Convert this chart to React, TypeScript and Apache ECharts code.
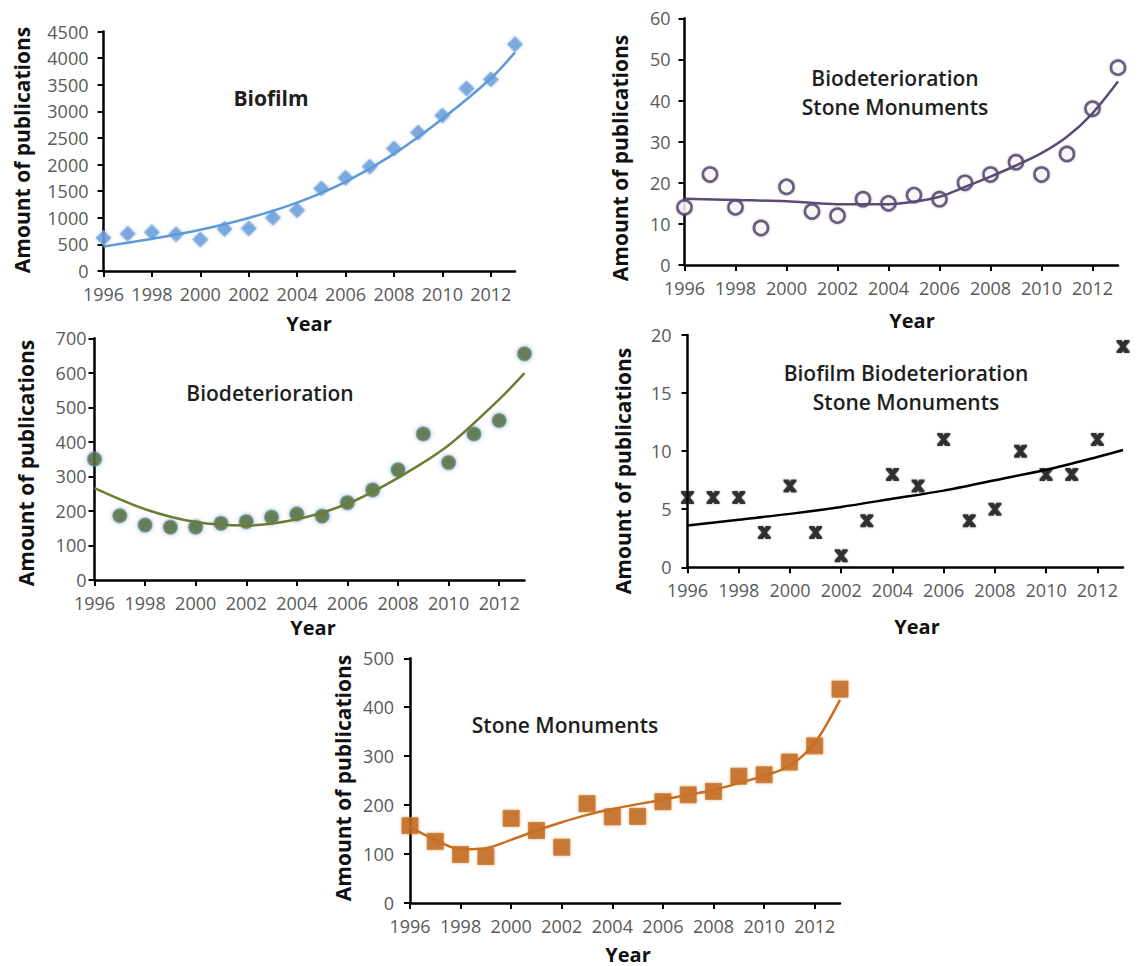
import React, { useEffect, useRef } from "react";
import * as echarts from "echarts";

const years = [1996, 1997, 1998, 1999, 2000, 2001, 2002, 2003, 2004, 2005, 2006, 2007, 2008, 2009, 2010, 2011, 2012, 2013];
const xTickValues = [1996, 1998, 2000, 2002, 2004, 2006, 2008, 2010, 2012];

// Biofilm
const biofilmValues = [620, 700, 730, 690, 590, 790, 800, 1000, 1140, 1550, 1750, 1960, 2300, 2600, 2920, 3430, 3600, 4260];
const biofilmTrendYears = [1996, 1998, 2000, 2002, 2004, 2006, 2008, 2010, 2012, 2013];
const biofilmTrendValues = [460, 605, 776, 997, 1285, 1675, 2200, 2860, 3617, 4109];

// Biodeterioration Stone Monuments
const bioStoneValues = [14, 22, 14, 9, 19, 13, 12, 16, 15, 17, 16, 20, 22, 25, 22, 27, 38, 48];
const bioStoneTrendYears = [1996, 1998, 2000, 2002, 2004, 2005, 2006, 2007, 2008, 2009, 2010, 2011, 2012, 2013];
const bioStoneTrendValues = [16.1, 15.8, 15.5, 14.8, 14.8, 15.4, 16.6, 19, 21.5, 24.2, 27.2, 31.2, 36.9, 44.6];

// Biodeterioration
const biodetValues = [350, 186, 159, 153, 153, 164, 169, 182, 191, 185, 224, 261, 319, 423, 340, 423, 462, 655];
const biodetTrendYears = [1996, 1998, 2000, 2002, 2004, 2006, 2008, 2010, 2012, 2013];
const biodetTrendValues = [266, 205, 168, 158, 176, 221, 296, 390, 523, 599];

// Biofilm Biodeterioration Stone Monuments
const allThreeValues = [6, 6, 6, 3, 7, 3, 1, 4, 8, 7, 11, 4, 5, 10, 8, 8, 11, 19];
const allThreeTrendYears = [1996, 1998, 2000, 2002, 2004, 2006, 2008, 2010, 2012, 2013];
const allThreeTrendValues = [3.6, 4.1, 4.6, 5.2, 5.9, 6.6, 7.5, 8.4, 9.5, 10.1];

// Stone Monuments
const stoneValues = [158, 126, 99, 95, 173, 148, 114, 203, 176, 177, 207, 221, 228, 259, 262, 288, 321, 437];
const stoneTrendYears = [1996, 1997, 1998, 1999, 2000, 2001, 2002, 2003, 2004, 2005, 2006, 2007, 2008, 2009, 2010, 2011, 2012, 2013];
const stoneTrendValues = [155, 129, 110, 112, 129, 148, 165, 180, 192, 202, 211, 221, 231, 245, 260, 280, 327, 415];

const FONT = '"Open Sans", "Liberation Sans", sans-serif';
const X_MARK = "path://M0,0 L4,0 L5,1.7 L6,0 L10,0 L10,1.6 L7,5 L10,8.4 L10,10 L6,10 L5,8.3 L4,10 L0,10 L0,8.4 L3,5 L0,1.6 Z";

type Panel = {
  grid: { left: number; top: number; width: number; height: number };
  yMax: number;
  yInterval: number;
  labelMargin: number;
  values: number[];
  trendYears: number[];
  trendValues: number[];
  symbol: string;
  symbolSize: number | number[];
  itemStyle: any;
  lineColor: string;
  title: string[];
  titleX: number;
  titleY: number[];
  titleWeight: string | number;
  nameX: number;
  nameY: number;
  yearX: number;
  yearY: number;
};

const panels: Panel[] = [
  {
    grid: { left: 103.5, top: 31.5, width: 411.5, height: 239.5 },
    yMax: 4500, yInterval: 500, labelMargin: 15,
    values: biofilmValues, trendYears: biofilmTrendYears, trendValues: biofilmTrendValues,
    symbol: "diamond", symbolSize: 15,
    itemStyle: { color: "#6ea3dd", borderColor: "#8db9ea", borderWidth: 1, shadowBlur: 3, shadowColor: "rgba(70,120,190,0.6)" },
    lineColor: "#5f9ad8",
    title: ["Biofilm"], titleX: 271, titleY: [98], titleWeight: "bold",
    nameX: 22, nameY: 150, yearX: 309, yearY: 323,
  },
  {
    grid: { left: 684.5, top: 18.3, width: 433.5, height: 246.7 },
    yMax: 60, yInterval: 10, labelMargin: 14,
    values: bioStoneValues, trendYears: bioStoneTrendYears, trendValues: bioStoneTrendValues,
    symbol: "circle", symbolSize: 14,
    itemStyle: { color: "#ffffff", borderColor: "#4f3f66", borderWidth: 2.6, shadowBlur: 2, shadowColor: "rgba(60,50,90,0.5)" },
    lineColor: "#5b4a72",
    title: ["Biodeterioration", "Stone Monuments"], titleX: 895, titleY: [78, 107], titleWeight: 600,
    nameX: 620, nameY: 158, yearX: 912, yearY: 320,
  },
  {
    grid: { left: 94.5, top: 338.3, width: 430, height: 241.7 },
    yMax: 700, yInterval: 100, labelMargin: 8,
    values: biodetValues, trendYears: biodetTrendYears, trendValues: biodetTrendValues,
    symbol: "circle", symbolSize: 14,
    itemStyle: { color: "#56702b", borderColor: "rgba(110,150,190,0.7)", borderWidth: 1.2, shadowBlur: 4, shadowColor: "rgba(60,100,160,0.6)" },
    lineColor: "#6a7e33",
    title: ["Biodeterioration"], titleX: 270, titleY: [393], titleWeight: 600,
    nameX: 26, nameY: 463, yearX: 313, yearY: 627,
  },
  {
    grid: { left: 687.5, top: 335, width: 435.5, height: 232.3 },
    yMax: 20, yInterval: 5, labelMargin: 16,
    values: allThreeValues, trendYears: allThreeTrendYears, trendValues: allThreeTrendValues,
    symbol: X_MARK, symbolSize: 13,
    itemStyle: { color: "#111111", shadowBlur: 2, shadowColor: "rgba(0,0,0,0.4)" },
    lineColor: "#000000",
    title: ["Biofilm Biodeterioration", "Stone Monuments"], titleX: 906, titleY: [373, 402], titleWeight: 600,
    nameX: 623, nameY: 471, yearX: 917, yearY: 626,
  },
  {
    grid: { left: 410, top: 658.3, width: 430, height: 244.7 },
    yMax: 500, yInterval: 100, labelMargin: 16,
    values: stoneValues, trendYears: stoneTrendYears, trendValues: stoneTrendValues,
    symbol: "rect", symbolSize: 16,
    itemStyle: { color: "#c0661c", borderColor: "#d07a30", borderWidth: 1, shadowBlur: 3, shadowColor: "rgba(190,110,40,0.6)" },
    lineColor: "#c96f20",
    title: ["Stone Monuments"], titleX: 565, titleY: [725], titleWeight: 600,
    nameX: 343, nameY: 778, yearX: 628, yearY: 954,
  },
];

function buildOption() {
  const grid = panels.map((p) => ({ ...p.grid, containLabel: false, outerBoundsMode: "none" }));
  const xAxis = panels.map((p, i) => ({
    type: "value",
    gridIndex: i,
    min: 1996,
    max: 2013,
    axisLine: { show: true, onZero: false, lineStyle: { color: "#000", width: 2.5 } },
    axisTick: { show: true, customValues: xTickValues, length: 6, lineStyle: { color: "#000", width: 2 } },
    axisLabel: {
      customValues: xTickValues,
      formatter: (v: number) => String(v),
      fontFamily: FONT,
      fontSize: 18,
      color: "#595959",
      margin: 14,
    },
    splitLine: { show: false },
  }));
  const yAxis = panels.map((p, i) => ({
    type: "value",
    gridIndex: i,
    min: 0,
    max: p.yMax,
    interval: p.yInterval,
    axisLine: { show: true, onZero: false, lineStyle: { color: "#000", width: 2.5 } },
    axisTick: { show: true, length: 6, lineStyle: { color: "#000", width: 2 } },
    axisLabel: {
      formatter: (v: number) => String(v),
      fontFamily: FONT,
      fontSize: 18,
      color: "#595959",
      margin: p.labelMargin,
    },
    splitLine: { show: false },
  }));
  const series: any[] = [];
  panels.forEach((p, i) => {
    series.push({
      type: "scatter",
      xAxisIndex: i,
      yAxisIndex: i,
      data: years.map((y, j) => [y, p.values[j]]),
      symbol: p.symbol,
      symbolSize: p.symbolSize,
      itemStyle: p.itemStyle,
      clip: false,
      z: 2,
    });
    series.push({
      type: "line",
      xAxisIndex: i,
      yAxisIndex: i,
      data: p.trendYears.map((y, j) => [y, p.trendValues[j]]),
      showSymbol: false,
      symbol: "none",
      smooth: 0.3,
      lineStyle: { color: p.lineColor, width: 2.5 },
      z: 3,
    });
  });
  const graphic: any[] = [];
  panels.forEach((p) => {
    p.title.forEach((t, k) => {
      graphic.push({
        type: "text",
        x: p.titleX,
        y: p.titleY[k],
        style: { text: t, fontFamily: FONT, fontSize: 21, fontWeight: p.titleWeight, fill: "#1e1e1e", align: "center", verticalAlign: "middle" },
      });
    });
    graphic.push({
      type: "text",
      x: p.nameX,
      y: p.nameY,
      rotation: Math.PI / 2,
      style: { text: "Amount of publications", fontFamily: FONT, fontSize: 21, fontWeight: "bold", fill: "#111", align: "center", verticalAlign: "middle" },
    });
    graphic.push({
      type: "text",
      x: p.yearX,
      y: p.yearY,
      style: { text: "Year", fontFamily: FONT, fontSize: 20, fontWeight: "bold", fill: "#111", align: "center", verticalAlign: "middle" },
    });
  });
  return { animation: false, backgroundColor: "#ffffff", grid, xAxis, yAxis, series, graphic };
}

export default function App() {
  const ref = useRef<HTMLDivElement>(null);
  useEffect(() => {
    document.body.style.margin = "0";
    if (!ref.current) return;
    const chart = echarts.init(ref.current, null, { renderer: "svg" });
    chart.setOption(buildOption() as any);
    return () => chart.dispose();
  }, []);
  return <div ref={ref} style={{ width: 1138, height: 966 }} />;
}
